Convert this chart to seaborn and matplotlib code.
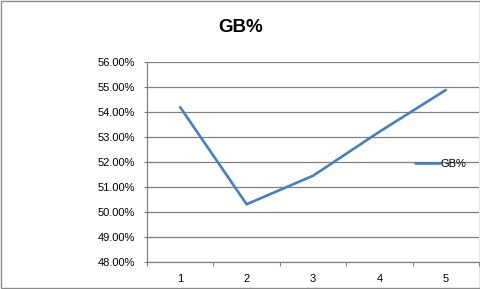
import matplotlib
matplotlib.use("Agg")
import matplotlib.pyplot as plt
import matplotlib.patches as mpatches
from matplotlib.ticker import FixedLocator, FuncFormatter
import seaborn as sns
import pandas as pd

categories = ["1", "2", "3", "4", "5"]
gb_pct = [54.19, 50.31, 51.45, 53.21, 54.88]
y_ticks = [48, 49, 50, 51, 52, 53, 54, 55, 56]

sns.set_style("white")
plt.rcParams['font.family'] = ['Liberation Sans', 'DejaVu Sans']
plt.rcParams['text.color'] = 'black'

df = pd.DataFrame({"pos": list(range(len(categories))), "GB%": gb_pct})

fig = plt.figure(figsize=(4.81, 2.89), dpi=100)
ax = fig.add_axes([147/481, 1-262/289, (479-147)/481, 200/289])

sns.lineplot(data=df, x="pos", y="GB%", ax=ax, color="#4A7EBB", linewidth=1.9,
             label="GB%", legend=False)

grey = "#808080"
ax.set_xlim(-0.5, len(categories)-0.5)
ax.set_ylim(48, 56)
ax.set_yticks(y_ticks)
ax.yaxis.set_major_formatter(FuncFormatter(lambda v, p: f"{v:.2f}%"))
ax.set_xticks(range(len(categories)))
ax.set_xticklabels(categories)
ax.xaxis.set_minor_locator(FixedLocator([i-0.5 for i in range(len(categories)+1)]))
ax.tick_params(axis="x", which="major", length=0, pad=8.3, labelsize=8, labelcolor="#000000")
ax.tick_params(axis="x", which="minor", length=3.2, width=0.8, color=grey, direction="out", bottom=True)
ax.tick_params(axis="y", length=2.5, width=0.8, color=grey, direction="out", left=True,
               pad=6.3, labelsize=8, labelcolor="#000000")
ax.grid(axis="y", color=grey, linewidth=0.9)
ax.grid(axis="x", visible=False)
ax.set_axisbelow(True)
ax.set_xlabel("")
ax.set_ylabel("")
for s in ["top", "right"]:
    ax.spines[s].set_visible(False)
for s in ["left", "bottom"]:
    ax.spines[s].set_color(grey)
    ax.spines[s].set_linewidth(0.9)

leg = ax.legend(loc="center left", bbox_to_anchor=(0.795, 0.49), frameon=False,
                fontsize=8, handlelength=2.2, handletextpad=0.1, borderaxespad=0)
for t in leg.get_texts():
    t.set_color("black")

fig.text(0.5, 1-27/289, "GB%", ha="center", va="center", fontsize=13.5,
         fontweight="bold", color="black")

fig.patches.append(mpatches.Rectangle((1/481, 1/289), 1-2/481, 1-2/289,
                                      transform=fig.transFigure, fill=False,
                                      edgecolor="#8a8a8a", linewidth=1.0))

fig.savefig("out.png", dpi=100)
